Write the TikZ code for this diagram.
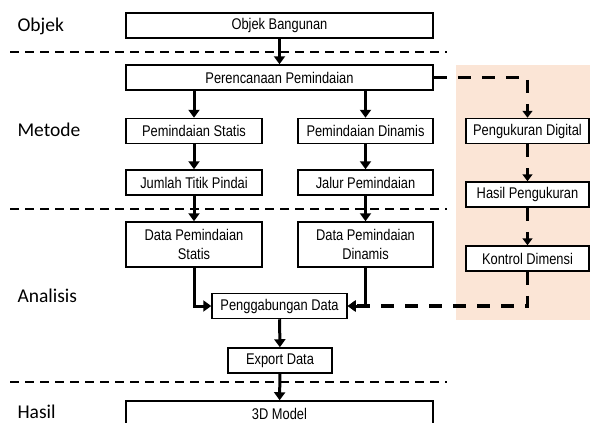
\documentclass[tikz,border=0pt]{standalone}
\usepackage{fontspec}
\setmainfont{Liberation Sans}[FakeStretch=0.83]
\newfontfamily\sidefont{Carlito}
\usetikzlibrary{arrows.meta}
\definecolor{peach}{HTML}{FBE5D6}

\begin{document}
\begin{tikzpicture}[x=1pt,y=-1pt]

        \useasboundingbox (0,0) rectangle (590,423);
        \clip (0,0) rectangle (590,423);

        \fill[peach] (456,65) rectangle (590,320);

        % batas antar tahap
        \begin{scope}[line width=1.6pt, dash pattern=on 9pt off 6pt]
          \draw (10,52) -- (447,52);
          \draw (10,209) -- (447,209);
          \draw (10,382) -- (447,382);
        \end{scope}

        \begin{scope}[every node/.style={anchor=west, font=\sidefont\fontsize{19.5}{22}\selectfont}]
          \node (a) at (14,26)  {Objek};
          \node (b) at (14,130) {Metode};
          \node (c) at (14,296) {Analisis};
          \node (d) at (14,412) {Hasil};
        \end{scope}

        \begin{scope}[every node/.style={rectangle, draw, fill=white, line width=1.5pt, inner sep=0pt,
            align=center, minimum height=25pt, font=\fontsize{15.5}{19}\selectfont}]
          \node[minimum width=307pt] (1)  at (279.5,25.5)  {Objek Bangunan};
          \node[minimum width=307pt] (2)  at (279.5,77.5)  {Perencanaan Pemindaian};
          \node[minimum width=136pt] (3)  at (194,131)     {Pemindaian Statis};
          \node[minimum width=135pt] (4)  at (365.5,131)   {Pemindaian Dinamis};
          \node[minimum width=136pt] (5)  at (194,182.5)   {Jumlah Titik Pindai};
          \node[minimum width=135pt] (6)  at (365.5,182.5) {Jalur Pemindaian};
          \node[minimum width=136pt, minimum height=45pt] (7) at (194,244.5)   {Data Pemindaian\\Statis};
          \node[minimum width=135pt, minimum height=45pt] (8) at (365.5,244.5) {Data Pemindaian\\Dinamis};
          \node[minimum width=135pt] (9)  at (279.5,306)   {Penggabungan Data};
          \node[minimum width=104pt] (10) at (280,360.5)   {Export Data};
          \node[minimum width=307pt, minimum height=26pt] (11) at (279.5,414) {3D Model};
          \node[minimum width=123pt] (12) at (527.5,131)   {Pengukuran Digital};
          \node[minimum width=123pt] (13) at (527.5,194.5) {Hasil Pengukuran};
          \node[minimum width=123pt] (14) at (527.5,258.5) {Kontrol Dimensi};
        \end{scope}

        \begin{scope}[line width=3pt, -{Triangle[width=11pt,length=8pt]}]
          \begin{scope}[every edge/.style={draw}]
            \path (1)  edge (2);
            \path (2.south -| 3) edge (3);
            \path (2.south -| 4) edge (4);
            \path (3)  edge (5);
            \path (4)  edge (6);
            \path (5)  edge (7);
            \path (6)  edge (8);
            \path (9)  edge (10);
            \path (10) edge (11);
          \end{scope}
          \draw (7) |- (9);
          \draw (8) |- (9);
        \end{scope}

        \begin{scope}[line width=3.3pt, dash pattern=on 13pt off 11pt, -{Triangle[width=10pt,length=7pt]}]
          \draw (2) -| (12);
          \draw (12) -- (13);
          \draw (13) -- (14);
          \draw (14) |- (9);
        \end{scope}

      \end{tikzpicture}
\end{document}
